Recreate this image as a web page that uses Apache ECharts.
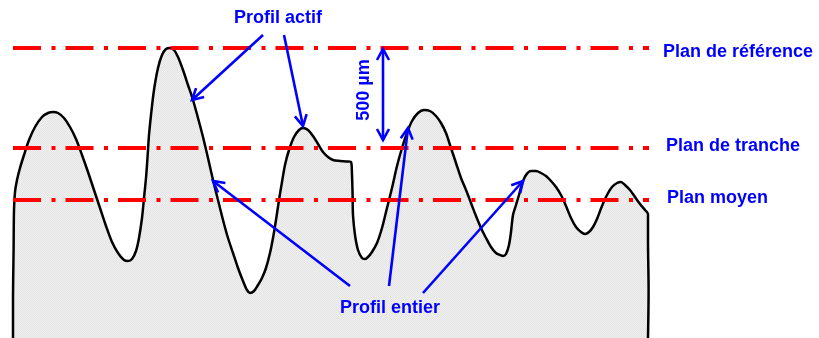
<!DOCTYPE html>
<html><head><meta charset="utf-8">
<script src="https://cdn.jsdelivr.net/npm/echarts@6/dist/echarts.min.js"></script>
<style>html,body{margin:0;padding:0;background:#fff}#c{width:819px;height:338px}</style>
</head><body><div id="c"></div>
<script>
// Profile (µm): horizontal position and height above the bottom of the frame
const profileX = [65,65,68,70,75,85,100,120,145,175,210,240,265,290,320,350,380,410,440,470,500,530,560,590,620,640,660,680,695,710,720,730,735,740,745,755,770,790,810,830,850,870,890,915,940,965,990,1015,1040,1065,1090,1115,1140,1165,1190,1215,1235,1250,1270,1290,1310,1330,1350,1365,1380,1395,1410,1425,1445,1470,1495,1515,1540,1565,1590,1615,1640,1665,1700,1730,1755,1760,1763,1765,1775,1790,1810,1825,1840,1860,1885,1910,1935,1960,1985,2010,2035,2060,2090,2120,2150,2180,2205,2230,2255,2280,2305,2330,2355,2380,2405,2430,2455,2480,2500,2515,2530,2545,2555,2565,2580,2595,2610,2630,2655,2680,2705,2730,2755,2780,2805,2830,2855,2880,2905,2925,2945,2965,2985,3010,3035,3060,3085,3105,3125,3150,3175,3200,3225,3240,3240,3243,3240];
const profileY = [0,190,440,640,730,790,850,915,990,1055,1105,1125,1130,1125,1100,1055,995,915,830,740,650,560,480,425,390,385,395,435,500,600,700,800,865,940,1015,1115,1240,1350,1415,1445,1450,1440,1405,1340,1265,1190,1100,1005,900,790,690,590,500,425,350,285,240,225,235,265,300,350,425,500,590,690,780,865,940,1005,1040,1050,1040,1010,970,930,905,890,885,883,880,815,715,615,515,440,400,395,405,430,475,550,650,750,860,950,1025,1085,1125,1140,1135,1110,1075,1025,950,875,800,740,675,610,550,500,455,425,415,410,420,465,530,615,665,715,770,815,835,835,825,810,785,755,715,660,600,555,530,520,530,555,595,660,715,755,775,780,765,740,705,670,640,620,490,240,0];

// Planes (µm)
const planNames = ['Plan de référence', 'Plan de tranche', 'Plan moyen'];
const planLevels = [1450, 950, 690];
const planStart = 65;
const planEnd = 3245;

// Annotation arrows (µm): start -> end, with a head at both ends when double = 1
const arrowStartX = [1315, 1420, 1915, 1750, 1945, 2115];
const arrowStartY = [1515, 1515, 990, 260, 260, 225];
const arrowEndX   = [960, 1515, 1915, 1065, 2040, 2615];
const arrowEndY   = [1190, 1060, 1445, 785, 1050, 785];
const arrowDouble = [0, 0, 1, 0, 0, 0];

// Texts
const labelActif = 'Profil actif';
const labelEntier = 'Profil entier';
const labelScale = '500 µm';

const chart = echarts.init(document.getElementById('c'), null, {renderer: 'canvas'});

const pc = document.createElement('canvas');
pc.width = 2; pc.height = 2;
const g = pc.getContext('2d');
g.fillStyle = '#f1f1f1'; g.fillRect(0, 0, 2, 2);
g.fillStyle = '#e3e3e3'; g.fillRect(0, 0, 1, 1); g.fillRect(1, 1, 1, 1);

const BLUE = '#0000ff';
const FONT = '"Liberation Sans", Arial, Helvetica, sans-serif';

function renderArrow(params, api) {
  const p0 = api.coord([api.value(0), api.value(1)]);
  const p1 = api.coord([api.value(2), api.value(3)]);
  const both = api.value(4);
  const head = (tip, from) => {
    const dx = tip[0] - from[0], dy = tip[1] - from[1];
    const L = Math.hypot(dx, dy); const ux = dx / L, uy = dy / L;
    const hl = 11, hw = 6;
    const bx = tip[0] - ux * hl, by = tip[1] - uy * hl;
    return {type: 'polyline', shape: {points: [[bx - uy * hw, by + ux * hw], [tip[0], tip[1]], [bx + uy * hw, by - ux * hw]]},
      style: {stroke: BLUE, lineWidth: 2.6, fill: null, lineJoin: 'miter'}};
  };
  const children = [
    {type: 'line', shape: {x1: p0[0], y1: p0[1], x2: p1[0], y2: p1[1]}, style: {stroke: BLUE, lineWidth: 2.6}},
    head(p1, p0)
  ];
  if (both) children.push(head(p0, p1));
  return {type: 'group', children};
}

const series = [];
series.push({
  type: 'line', z: 1, silent: true, symbol: 'none', smooth: 0.3,
  data: profileX.map((x, i) => [x, profileY[i]]),
  lineStyle: {color: '#000', width: 2.5},
  areaStyle: {color: {image: pc, repeat: 'repeat'}, opacity: 1}
});
planLevels.forEach((lv, i) => {
  series.push({
    type: 'line', name: planNames[i], z: 2, silent: true, symbol: 'none',
    data: [[planStart, lv], [planEnd, lv]],
    lineStyle: {color: '#ff0000', width: 4, type: [28, 10.5, 4, 10], cap: 'butt'}
  });
});
series.push({
  type: 'custom', z: 3, silent: true, renderItem: renderArrow,
  encode: {x: [0, 2], y: [1, 3]},
  data: arrowStartX.map((x, i) => [x, arrowStartY[i], arrowEndX[i], arrowEndY[i], arrowDouble[i]])
});

const txt = (text, x, y, align, extra) => Object.assign({
  type: 'text', x, y, z: 10, silent: true,
  style: {text, fill: BLUE, font: 'bold 18px ' + FONT, align, verticalAlign: 'middle'}
}, extra || {});

chart.setOption({
  animation: false,
  grid: {left: 0, right: 0, top: 0, bottom: 0},
  xAxis: {type: 'value', min: 0, max: 4095, show: false},
  yAxis: {type: 'value', min: 0, max: 1690, show: false},
  series,
  graphic: [
    txt(labelActif, 278, 18, 'center'),
    txt(planNames[0], 663, 52, 'left'),
    txt(planNames[1], 666, 146, 'left'),
    txt(planNames[2], 667, 198, 'left'),
    txt(labelEntier, 390, 308, 'center'),
    txt(labelScale, 364, 90, 'center', {rotation: Math.PI / 2})
  ]
});
</script>
</body></html>
